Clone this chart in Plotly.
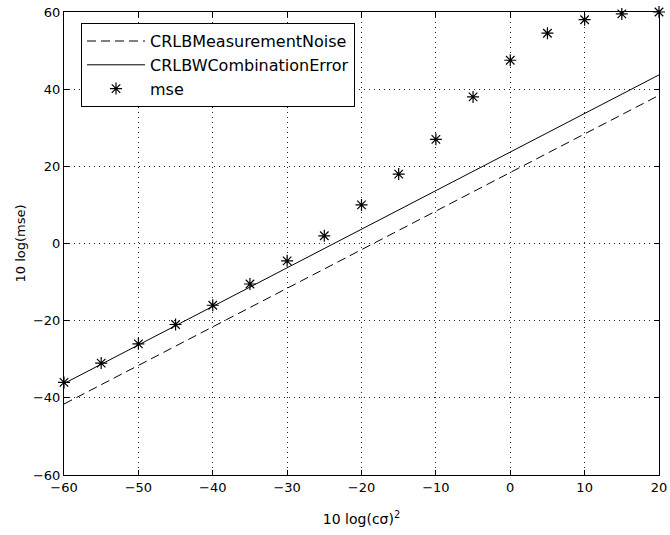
import plotly.graph_objects as go

x_vals = [-60, -55, -50, -45, -40, -35, -30, -25, -20, -15, -10, -5, 0, 5, 10, 15, 20]
crlb_noise = [-41.6, -36.6, -31.6, -26.6, -21.6, -16.6, -11.6, -6.6, -1.6, 3.4, 8.4, 13.4, 18.4, 23.4, 28.4, 33.4, 38.4]
crlb_comb = [-36.3, -31.3, -26.3, -21.3, -16.3, -11.3, -6.3, -1.3, 3.7, 8.7, 13.7, 18.7, 23.7, 28.7, 33.7, 38.7, 43.7]
mse = [-36, -31, -26, -21, -16, -10.5, -4.5, 2, 10, 18, 27, 38, 47.5, 54.5, 58, 59.5, 60]

x_ticks = [-60, -50, -40, -30, -20, -10, 0, 10, 20]
y_ticks = [-60, -40, -20, 0, 20, 40, 60]

FONT = "DejaVu Sans, Verdana, sans-serif"

fig = go.Figure()
fig.add_trace(go.Scatter(x=x_vals, y=crlb_noise, mode="lines", name="CRLBMeasurementNoise",
                         line=dict(color="black", width=1, dash="9px,5px")))
fig.add_trace(go.Scatter(x=x_vals, y=crlb_comb, mode="lines", name="CRLBWCombinationError",
                         line=dict(color="black", width=1)))
fig.add_trace(go.Scatter(x=x_vals, y=mse, mode="markers", name="mse",
                         marker=dict(symbol="asterisk-open", size=10, color="black",
                                     line=dict(color="black", width=1.2)),
                         cliponaxis=False))

axis_common = dict(showline=True, linecolor="black", linewidth=1, mirror="ticks",
                   ticks="inside", ticklen=5, tickcolor="black",
                   showgrid=True, gridcolor="#222222", gridwidth=1, griddash="1px,4px",
                   zeroline=False, automargin=False, ticklabeloverflow="allow",
                   tickfont=dict(family=FONT, size=13, color="black"))

fig.update_xaxes(range=[-60, 20], tickvals=x_ticks, **axis_common,
                 title=dict(text="10 log(cσ)<sup>2</sup>", font=dict(family=FONT, size=14, color="black"), standoff=20))
fig.update_yaxes(range=[-60, 60], tickvals=y_ticks, **axis_common,
                 title=dict(text="10 log(mse)", font=dict(family=FONT, size=13, color="black"), standoff=4))

fig.update_layout(
    width=670, height=535,
    margin=dict(l=64, r=11, t=12, b=60),
    paper_bgcolor="white", plot_bgcolor="white",
    showlegend=True,
    legend=dict(x=0.0286, y=0.976, xanchor="left", yanchor="top",
                bgcolor="white", bordercolor="black", borderwidth=1,
                font=dict(family=FONT, size=16, color="black"),
                tracegroupgap=0, itemwidth=58),
)

fig.write_html("out.html", config={"displayModeBar": False},
               post_script="document.body.style.margin='0';document.body.style.padding='0';")
